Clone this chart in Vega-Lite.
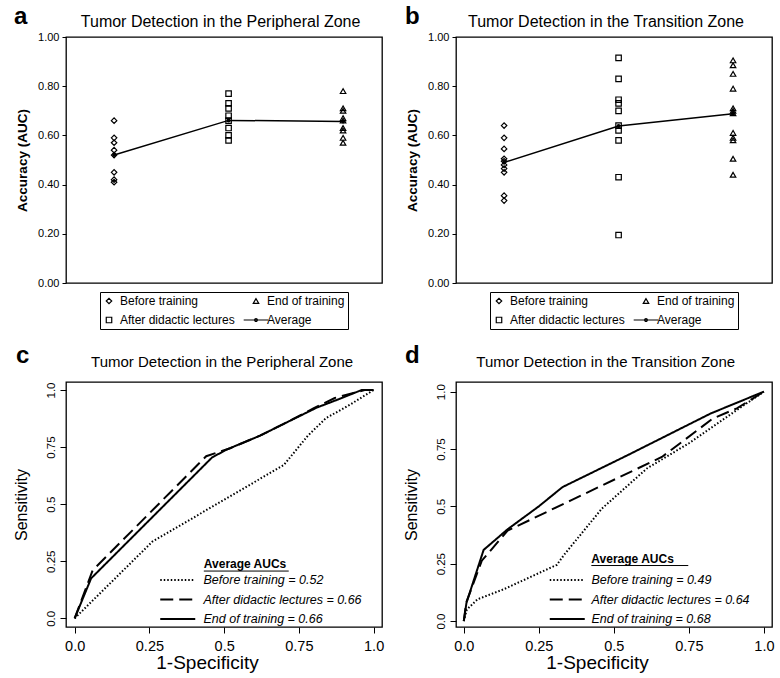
{
  "$schema": "https://vega.github.io/schema/vega-lite/v6.json",
  "background": "white",
  "padding": {"left": 12, "top": 4, "right": 5, "bottom": 5},
  "config": {
    "font": "Liberation Sans",
    "view": {"stroke": "black", "strokeWidth": 1.3},
    "axis": {"domain": false, "grid": false, "tickColor": "black", "labelColor": "black", "titleColor": "black", "labelFont": "Liberation Sans", "titleFont": "Liberation Sans", "tickWidth": 1},
    "legend": {"labelColor": "black", "labelFont": "Liberation Sans", "strokeWidth": 1, "layout": {"bottom": {"anchor": "middle"}}},
    "text": {"font": "Liberation Sans", "color": "black"}
  },
  "datasets": {
    "pz_auc": [
      {"stage": 1, "group": "Before training", "auc": 0.66},
      {"stage": 1, "group": "Before training", "auc": 0.59},
      {"stage": 1, "group": "Before training", "auc": 0.57},
      {"stage": 1, "group": "Before training", "auc": 0.54},
      {"stage": 1, "group": "Before training", "auc": 0.52},
      {"stage": 1, "group": "Before training", "auc": 0.45},
      {"stage": 1, "group": "Before training", "auc": 0.42},
      {"stage": 1, "group": "Before training", "auc": 0.41},
      {"stage": 2, "group": "After didactic lectures", "auc": 0.77},
      {"stage": 2, "group": "After didactic lectures", "auc": 0.73},
      {"stage": 2, "group": "After didactic lectures", "auc": 0.71},
      {"stage": 2, "group": "After didactic lectures", "auc": 0.68},
      {"stage": 2, "group": "After didactic lectures", "auc": 0.66},
      {"stage": 2, "group": "After didactic lectures", "auc": 0.63},
      {"stage": 2, "group": "After didactic lectures", "auc": 0.60},
      {"stage": 2, "group": "After didactic lectures", "auc": 0.58},
      {"stage": 3, "group": "End of training", "auc": 0.78},
      {"stage": 3, "group": "End of training", "auc": 0.71},
      {"stage": 3, "group": "End of training", "auc": 0.70},
      {"stage": 3, "group": "End of training", "auc": 0.67},
      {"stage": 3, "group": "End of training", "auc": 0.66},
      {"stage": 3, "group": "End of training", "auc": 0.63},
      {"stage": 3, "group": "End of training", "auc": 0.62},
      {"stage": 3, "group": "End of training", "auc": 0.59},
      {"stage": 3, "group": "End of training", "auc": 0.57}
    ],
    "pz_avg": [
      {"stage": 1, "auc": 0.52},
      {"stage": 2, "auc": 0.661},
      {"stage": 3, "auc": 0.657}
    ],
    "tz_auc": [
      {"stage": 1, "group": "Before training", "auc": 0.64},
      {"stage": 1, "group": "Before training", "auc": 0.59},
      {"stage": 1, "group": "Before training", "auc": 0.545},
      {"stage": 1, "group": "Before training", "auc": 0.505},
      {"stage": 1, "group": "Before training", "auc": 0.495},
      {"stage": 1, "group": "Before training", "auc": 0.48},
      {"stage": 1, "group": "Before training", "auc": 0.465},
      {"stage": 1, "group": "Before training", "auc": 0.45},
      {"stage": 1, "group": "Before training", "auc": 0.355},
      {"stage": 1, "group": "Before training", "auc": 0.335},
      {"stage": 2, "group": "After didactic lectures", "auc": 0.915},
      {"stage": 2, "group": "After didactic lectures", "auc": 0.83},
      {"stage": 2, "group": "After didactic lectures", "auc": 0.745},
      {"stage": 2, "group": "After didactic lectures", "auc": 0.73},
      {"stage": 2, "group": "After didactic lectures", "auc": 0.70},
      {"stage": 2, "group": "After didactic lectures", "auc": 0.64},
      {"stage": 2, "group": "After didactic lectures", "auc": 0.62},
      {"stage": 2, "group": "After didactic lectures", "auc": 0.58},
      {"stage": 2, "group": "After didactic lectures", "auc": 0.43},
      {"stage": 2, "group": "After didactic lectures", "auc": 0.195},
      {"stage": 3, "group": "End of training", "auc": 0.905},
      {"stage": 3, "group": "End of training", "auc": 0.885},
      {"stage": 3, "group": "End of training", "auc": 0.85},
      {"stage": 3, "group": "End of training", "auc": 0.79},
      {"stage": 3, "group": "End of training", "auc": 0.71},
      {"stage": 3, "group": "End of training", "auc": 0.70},
      {"stage": 3, "group": "End of training", "auc": 0.69},
      {"stage": 3, "group": "End of training", "auc": 0.61},
      {"stage": 3, "group": "End of training", "auc": 0.59},
      {"stage": 3, "group": "End of training", "auc": 0.58},
      {"stage": 3, "group": "End of training", "auc": 0.505},
      {"stage": 3, "group": "End of training", "auc": 0.44}
    ],
    "tz_avg": [
      {"stage": 1, "auc": 0.49},
      {"stage": 2, "auc": 0.638},
      {"stage": 3, "auc": 0.688}
    ],
    "pz_roc": [
      {"series": "Before training", "fpr": 0, "tpr": 0},
      {"series": "Before training", "fpr": 0.26, "tpr": 0.336},
      {"series": "Before training", "fpr": 0.70, "tpr": 0.672},
      {"series": "Before training", "fpr": 0.73, "tpr": 0.72},
      {"series": "Before training", "fpr": 0.78, "tpr": 0.80},
      {"series": "Before training", "fpr": 0.84, "tpr": 0.876},
      {"series": "Before training", "fpr": 0.92, "tpr": 0.935},
      {"series": "Before training", "fpr": 1, "tpr": 1},
      {"series": "After didactic lectures", "fpr": 0, "tpr": 0},
      {"series": "After didactic lectures", "fpr": 0.06, "tpr": 0.21},
      {"series": "After didactic lectures", "fpr": 0.44, "tpr": 0.71},
      {"series": "After didactic lectures", "fpr": 0.52, "tpr": 0.745},
      {"series": "After didactic lectures", "fpr": 0.62, "tpr": 0.80},
      {"series": "After didactic lectures", "fpr": 0.72, "tpr": 0.865},
      {"series": "After didactic lectures", "fpr": 0.80, "tpr": 0.92},
      {"series": "After didactic lectures", "fpr": 0.87, "tpr": 0.965},
      {"series": "After didactic lectures", "fpr": 0.97, "tpr": 1.0},
      {"series": "After didactic lectures", "fpr": 1, "tpr": 1},
      {"series": "End of training", "fpr": 0, "tpr": 0},
      {"series": "End of training", "fpr": 0.055, "tpr": 0.175},
      {"series": "End of training", "fpr": 0.46, "tpr": 0.705},
      {"series": "End of training", "fpr": 0.51, "tpr": 0.74},
      {"series": "End of training", "fpr": 0.62, "tpr": 0.80},
      {"series": "End of training", "fpr": 0.72, "tpr": 0.865},
      {"series": "End of training", "fpr": 0.81, "tpr": 0.923},
      {"series": "End of training", "fpr": 0.89, "tpr": 0.963},
      {"series": "End of training", "fpr": 0.96, "tpr": 1.0},
      {"series": "End of training", "fpr": 1, "tpr": 1}
    ],
    "tz_roc": [
      {"series": "Before training", "fpr": 0, "tpr": 0},
      {"series": "Before training", "fpr": 0.01, "tpr": 0.05},
      {"series": "Before training", "fpr": 0.046, "tpr": 0.095},
      {"series": "Before training", "fpr": 0.134, "tpr": 0.139},
      {"series": "Before training", "fpr": 0.31, "tpr": 0.245},
      {"series": "Before training", "fpr": 0.335, "tpr": 0.29},
      {"series": "Before training", "fpr": 0.46, "tpr": 0.49},
      {"series": "Before training", "fpr": 0.61, "tpr": 0.665},
      {"series": "Before training", "fpr": 0.75, "tpr": 0.775},
      {"series": "Before training", "fpr": 0.91, "tpr": 0.92},
      {"series": "Before training", "fpr": 1, "tpr": 1},
      {"series": "After didactic lectures", "fpr": 0, "tpr": 0},
      {"series": "After didactic lectures", "fpr": 0.008, "tpr": 0.08},
      {"series": "After didactic lectures", "fpr": 0.06, "tpr": 0.263},
      {"series": "After didactic lectures", "fpr": 0.146, "tpr": 0.394},
      {"series": "After didactic lectures", "fpr": 0.357, "tpr": 0.526},
      {"series": "After didactic lectures", "fpr": 0.52, "tpr": 0.628},
      {"series": "After didactic lectures", "fpr": 0.66, "tpr": 0.715},
      {"series": "After didactic lectures", "fpr": 0.83, "tpr": 0.883},
      {"series": "After didactic lectures", "fpr": 0.91, "tpr": 0.927},
      {"series": "After didactic lectures", "fpr": 1, "tpr": 1},
      {"series": "End of training", "fpr": 0, "tpr": 0},
      {"series": "End of training", "fpr": 0.009, "tpr": 0.08},
      {"series": "End of training", "fpr": 0.066, "tpr": 0.31},
      {"series": "End of training", "fpr": 0.146, "tpr": 0.40},
      {"series": "End of training", "fpr": 0.25, "tpr": 0.50},
      {"series": "End of training", "fpr": 0.329, "tpr": 0.584},
      {"series": "End of training", "fpr": 0.546, "tpr": 0.723},
      {"series": "End of training", "fpr": 0.823, "tpr": 0.905},
      {"series": "End of training", "fpr": 1, "tpr": 1}
    ]
  },
  "columns": 2,
  "spacing": {"row": 99, "column": 74},
  "bounds": "flush",
  "resolve": {
    "scale": {"x": "independent", "y": "independent", "shape": "independent", "strokeDash": "independent"},
    "legend": {"shape": "independent", "strokeDash": "independent"}
  },
  "concat": [
    {
      "width": 316, "height": 246,
      "layer": [
        {
          "data": {"name": "pz_auc"},
          "mark": {"type": "point", "filled": false, "size": 30, "strokeWidth": 1.2, "color": "black", "opacity": 1},
          "encoding": {
            "x": {"field": "stage", "type": "quantitative", "scale": {"domain": [0.58, 3.34], "nice": false, "zero": false}, "axis": null},
            "y": {"field": "auc", "type": "quantitative", "scale": {"domain": [0, 1], "nice": false}, "axis": {"title": "Accuracy (AUC)", "values": [0, 0.2, 0.4, 0.6, 0.8, 1], "format": ".2f", "tickSize": 4, "labelPadding": 3, "labelFontSize": 11, "titleFontSize": 13.5, "titleFontWeight": "bold", "titlePadding": 8}},
            "shape": {"field": "group", "type": "nominal",
              "scale": {"domain": ["Before training", "After didactic lectures", "End of training", "Average"], "range": ["diamond", "square", "triangle-up", "M-4.5,0H4.5M-0.5,0a0.5,0.5 0 1,0 1,0a0.5,0.5 0 1,0 -1,0"]},
              "legend": {"title": null, "orient": "bottom", "direction": "vertical", "offset": 9, "columns": 2, "columnPadding": 6, "rowPadding": 7, "padding": 3, "strokeColor": "black", "fillColor": "white", "symbolSize": 30, "symbolStrokeColor": "black", "symbolStrokeWidth": 1.2, "labelFontSize": 12, "labelOffset": 5}}
          }
        },
        {
          "data": {"name": "pz_avg"},
          "mark": {"type": "line", "color": "black", "strokeWidth": 1.5, "point": {"filled": true, "size": 16, "color": "black", "opacity": 1}},
          "encoding": {
            "x": {"field": "stage", "type": "quantitative"},
            "y": {"field": "auc", "type": "quantitative"}
          }
        },
        {
          "data": {"values": [{"title": "Tumor Detection in the Peripheral Zone"}]},
          "mark": {"type": "text", "fontSize": 16, "align": "center", "baseline": "alphabetic"},
          "encoding": {"text": {"field": "title"}, "x": {"datum": 1.93}, "y": {"datum": 1.041}}
        },
        {
          "data": {"values": [{"letter": "a"}]},
          "mark": {"type": "text", "fontSize": 24, "fontWeight": "bold", "align": "left", "baseline": "alphabetic"},
          "encoding": {"text": {"field": "letter"}, "x": {"datum": 0.126}, "y": {"datum": 1.054}}
        }
      ]
    },
    {
      "width": 316, "height": 246,
      "layer": [
        {
          "data": {"name": "tz_auc"},
          "mark": {"type": "point", "filled": false, "size": 30, "strokeWidth": 1.2, "color": "black", "opacity": 1},
          "encoding": {
            "x": {"field": "stage", "type": "quantitative", "scale": {"domain": [0.58, 3.34], "nice": false, "zero": false}, "axis": null},
            "y": {"field": "auc", "type": "quantitative", "scale": {"domain": [0, 1], "nice": false}, "axis": {"title": "Accuracy (AUC)", "values": [0, 0.2, 0.4, 0.6, 0.8, 1], "format": ".2f", "tickSize": 4, "labelPadding": 3, "labelFontSize": 11, "titleFontSize": 13.5, "titleFontWeight": "bold", "titlePadding": 8}},
            "shape": {"field": "group", "type": "nominal",
              "scale": {"domain": ["Before training", "After didactic lectures", "End of training", "Average"], "range": ["diamond", "square", "triangle-up", "M-4.5,0H4.5M-0.5,0a0.5,0.5 0 1,0 1,0a0.5,0.5 0 1,0 -1,0"]},
              "legend": {"title": null, "orient": "bottom", "direction": "vertical", "offset": 9, "columns": 2, "columnPadding": 6, "rowPadding": 7, "padding": 3, "strokeColor": "black", "fillColor": "white", "symbolSize": 30, "symbolStrokeColor": "black", "symbolStrokeWidth": 1.2, "labelFontSize": 12, "labelOffset": 5}}
          }
        },
        {
          "data": {"name": "tz_avg"},
          "mark": {"type": "line", "color": "black", "strokeWidth": 1.5, "point": {"filled": true, "size": 16, "color": "black", "opacity": 1}},
          "encoding": {
            "x": {"field": "stage", "type": "quantitative"},
            "y": {"field": "auc", "type": "quantitative"}
          }
        },
        {
          "data": {"values": [{"title": "Tumor Detection in the Transition Zone"}]},
          "mark": {"type": "text", "fontSize": 16, "align": "center", "baseline": "alphabetic"},
          "encoding": {"text": {"field": "title"}, "x": {"datum": 1.89}, "y": {"datum": 1.041}}
        },
        {
          "data": {"values": [{"letter": "b"}]},
          "mark": {"type": "text", "fontSize": 24, "fontWeight": "bold", "align": "left", "baseline": "alphabetic"},
          "encoding": {"text": {"field": "letter"}, "x": {"datum": 0.135}, "y": {"datum": 1.054}}
        }
      ]
    },
    {
      "width": 316, "height": 245,
      "layer": [
        {
          "data": {"name": "pz_roc"},
          "mark": {"type": "line", "color": "black", "strokeWidth": 2},
          "encoding": {
            "x": {"field": "fpr", "type": "quantitative", "scale": {"domain": [-0.029, 1.028], "nice": false, "zero": false},
              "axis": {"title": "1-Specificity", "values": [0, 0.25, 0.5, 0.75, 1], "labelExpr": "datum.value == 0 ? '0.0' : datum.value == 1 ? '1.0' : '' + datum.value", "labelFontSize": 14.5, "titleFontSize": 19, "titleFontWeight": "normal", "tickSize": 6, "labelPadding": 6, "titlePadding": 1, "titleX": 141}},
            "y": {"field": "tpr", "type": "quantitative", "scale": {"domain": [-0.038, 1.035], "nice": false, "zero": false},
              "axis": {"title": "Sensitivity", "values": [0, 0.25, 0.5, 0.75, 1], "labelExpr": "datum.value == 0 ? '0.0' : datum.value == 1 ? '1.0' : '' + datum.value", "labelFontSize": 11.5, "labelAngle": 270, "labelAlign": "center", "labelBaseline": "bottom", "titleFontSize": 16, "titleFontWeight": "normal", "tickSize": 6, "labelPadding": 4, "titlePadding": 16}},
            "strokeDash": {"field": "series", "type": "nominal",
              "scale": {"domain": ["Before training", "After didactic lectures", "End of training"], "range": [[1.5, 2], [13, 6], [1, 0]]},
              "legend": {"title": null, "orient": "none", "legendX": 105.5, "legendY": 191.75, "padding": 0, "rowPadding": 6.5, "symbolType": "M-3.5,0H3.5", "symbolSize": 100, "symbolStrokeWidth": 2, "symbolStrokeColor": "black", "labelFontSize": 12.5, "labelFontStyle": "italic", "labelOffset": 19.5,
                "labelExpr": "datum.label + ' = ' + (datum.label == 'Before training' ? '0.52' : '0.66')"}}
          }
        },
        {
          "data": {"values": [{"t": "Average AUCs"}]},
          "mark": {"type": "text", "fontSize": 12, "fontWeight": "bold", "align": "left", "baseline": "alphabetic"},
          "encoding": {"text": {"field": "t"}, "x": {"datum": 0.432}, "y": {"datum": 0.22}}
        },
        {
          "data": {"values": [{"t": "Average AUCs"}]},
          "mark": {"type": "rule", "color": "black", "strokeWidth": 1},
          "encoding": {"x": {"datum": 0.432}, "x2": {"datum": 0.716}, "y": {"datum": 0.207}}
        },
        {
          "data": {"values": [{"title": "Tumor Detection in the Peripheral Zone"}]},
          "mark": {"type": "text", "fontSize": 15, "align": "center", "baseline": "alphabetic"},
          "encoding": {"text": {"field": "title"}, "x": {"datum": 0.493}, "y": {"datum": 1.102}}
        },
        {
          "data": {"values": [{"letter": "c"}]},
          "mark": {"type": "text", "fontSize": 24, "fontWeight": "bold", "align": "left", "baseline": "alphabetic"},
          "encoding": {"text": {"field": "letter"}, "x": {"datum": -0.196}, "y": {"datum": 1.117}}
        }
      ]
    },
    {
      "width": 316, "height": 245,
      "layer": [
        {
          "data": {"name": "tz_roc"},
          "mark": {"type": "line", "color": "black", "strokeWidth": 2},
          "encoding": {
            "x": {"field": "fpr", "type": "quantitative", "scale": {"domain": [-0.026, 1.027], "nice": false, "zero": false},
              "axis": {"title": "1-Specificity", "values": [0, 0.25, 0.5, 0.75, 1], "labelExpr": "datum.value == 0 ? '0.0' : datum.value == 1 ? '1.0' : '' + datum.value", "labelFontSize": 14.5, "titleFontSize": 19, "titleFontWeight": "normal", "tickSize": 6, "labelPadding": 6, "titlePadding": 1, "titleX": 141}},
            "y": {"field": "tpr", "type": "quantitative", "scale": {"domain": [-0.026, 1.042], "nice": false, "zero": false},
              "axis": {"title": "Sensitivity", "values": [0, 0.25, 0.5, 0.75, 1], "labelExpr": "datum.value == 0 ? '0.0' : datum.value == 1 ? '1.0' : '' + datum.value", "labelFontSize": 11.5, "labelAngle": 270, "labelAlign": "center", "labelBaseline": "bottom", "titleFontSize": 16, "titleFontWeight": "normal", "tickSize": 6, "labelPadding": 4, "titlePadding": 16}},
            "strokeDash": {"field": "series", "type": "nominal",
              "scale": {"domain": ["Before training", "After didactic lectures", "End of training"], "range": [[1.5, 2], [13, 6], [1, 0]]},
              "legend": {"title": null, "orient": "none", "legendX": 105, "legendY": 191.75, "padding": 0, "rowPadding": 6.5, "symbolType": "M-3.5,0H3.5", "symbolSize": 100, "symbolStrokeWidth": 2, "symbolStrokeColor": "black", "labelFontSize": 12.5, "labelFontStyle": "italic", "labelOffset": 18,
                "labelExpr": "datum.label + ' = ' + (datum.label == 'Before training' ? '0.49' : datum.label == 'After didactic lectures' ? '0.64' : '0.68')"}}
          }
        },
        {
          "data": {"values": [{"t": "Average AUCs"}]},
          "mark": {"type": "text", "fontSize": 12, "fontWeight": "bold", "align": "left", "baseline": "alphabetic"},
          "encoding": {"text": {"field": "t"}, "x": {"datum": 0.425}, "y": {"datum": 0.253}}
        },
        {
          "data": {"values": [{"t": "Average AUCs"}]},
          "mark": {"type": "rule", "color": "black", "strokeWidth": 1},
          "encoding": {"x": {"datum": 0.425}, "x2": {"datum": 0.748}, "y": {"datum": 0.242}}
        },
        {
          "data": {"values": [{"title": "Tumor Detection in the Transition Zone"}]},
          "mark": {"type": "text", "fontSize": 15, "align": "center", "baseline": "alphabetic"},
          "encoding": {"text": {"field": "title"}, "x": {"datum": 0.473}, "y": {"datum": 1.109}}
        },
        {
          "data": {"values": [{"letter": "d"}]},
          "mark": {"type": "text", "fontSize": 24, "fontWeight": "bold", "align": "left", "baseline": "alphabetic"},
          "encoding": {"text": {"field": "letter"}, "x": {"datum": -0.196}, "y": {"datum": 1.124}}
        }
      ]
    }
  ]
}
